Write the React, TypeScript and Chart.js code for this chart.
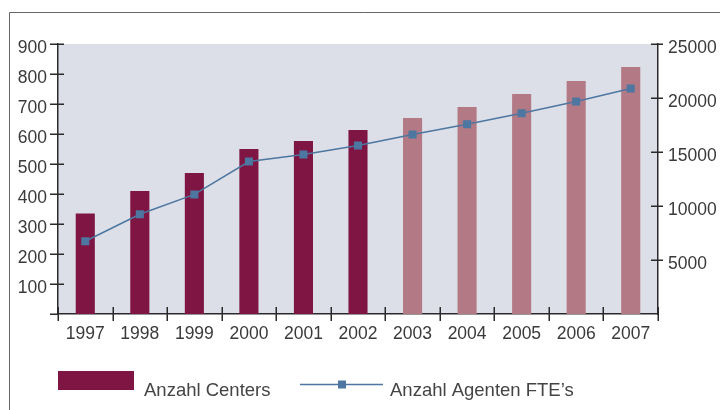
import React, { useEffect, useRef } from "react";
import { Chart, registerables } from "chart.js";

Chart.register(...registerables);

const years = ["1997", "1998", "1999", "2000", "2001", "2002", "2003", "2004", "2005", "2006", "2007"];
const centers = [335, 410, 470, 550, 577, 613, 653, 690, 733, 777, 823];
const agents = [6740, 9240, 11070, 14120, 14770, 15600, 16620, 17570, 18590, 19680, 20880];
const firstProjectedYear = "2003";
const centersLabel = "Anzahl Centers";
const agentsLabel = "Anzahl Agenten FTE\u2019s";

const DARK = "#7e1542";
const LIGHT = "#b37a86";
const LINE = "#4d76a0";
const BG = "#dcdfe7";
const AXIS = "#2a2a2a";
const TEXT = "#3a3a3a";
const FONT = "'Liberation Sans', Arial, sans-serif";

const decorPlugin = {
  id: "decor",
  beforeDraw(chart: any) {
    const { ctx, chartArea } = chart;
    ctx.save();
    ctx.fillStyle = BG;
    ctx.fillRect(chartArea.left, chartArea.top, chartArea.right - chartArea.left, chartArea.bottom - chartArea.top);
    // frame
    ctx.strokeStyle = "#666";
    ctx.lineWidth = 1;
    ctx.beginPath();
    ctx.moveTo(9.5, 410);
    ctx.lineTo(9.5, 12.5);
    ctx.lineTo(720, 12.5);
    ctx.stroke();
    ctx.restore();
  },
  afterDraw(chart: any) {
    const { ctx, chartArea } = chart;
    const y = chart.scales.y;
    const y2 = chart.scales.y2;
    const x = chart.scales.x;
    ctx.save();
    ctx.strokeStyle = AXIS;
    ctx.lineWidth = 1.5;
    ctx.beginPath();
    y.ticks.forEach((t: any) => {
      const py = Math.round(y.getPixelForValue(t.value)) + 0.25;
      ctx.moveTo(chartArea.left - 8, py);
      ctx.lineTo(t.value === 0 ? chartArea.left : chartArea.left + 6, py);
    });
    y2.ticks.forEach((t: any) => {
      if (t.value === 0) return;
      const py = Math.round(y2.getPixelForValue(t.value)) + 0.25;
      ctx.moveTo(chartArea.right - 7, py);
      ctx.lineTo(chartArea.right + 5, py);
    });
    const n = x.ticks.length;
    for (let i = 0; i <= n; i++) {
      let px;
      if (i === 0) px = chartArea.left;
      else if (i === n) px = chartArea.right;
      else px = (x.getPixelForValue(i - 1) + x.getPixelForValue(i)) / 2;
      px = Math.round(px) + 0.25;
      ctx.moveTo(px, chartArea.bottom - 7);
      ctx.lineTo(px, chartArea.bottom + 7);
    }
    ctx.stroke();

    // legend
    const ds = chart.data.datasets;
    const bar = ds.find((d: any) => d.type === "bar");
    const line = ds.find((d: any) => d.type === "line");
    ctx.font = `18.5px ${FONT}`;
    ctx.fillStyle = "#444";
    ctx.textBaseline = "alphabetic";
    ctx.textAlign = "left";
    ctx.fillStyle = DARK;
    ctx.fillRect(58, 371, 76, 19);
    ctx.fillStyle = "#444";
    ctx.fillText(bar.label, 144, 396);
    ctx.strokeStyle = LINE;
    ctx.lineWidth = 1.5;
    ctx.beginPath();
    ctx.moveTo(300, 384.5);
    ctx.lineTo(383, 384.5);
    ctx.stroke();
    ctx.fillStyle = LINE;
    ctx.fillRect(338, 380.5, 8, 8);
    ctx.fillStyle = "#444";
    ctx.fillText(line.label, 390, 396);
    ctx.restore();
  },
};

export default function App() {
  const ref = useRef<HTMLCanvasElement>(null);
  useEffect(() => {
    document.body.style.margin = "0";
    const projIdx = years.indexOf(firstProjectedYear);
    const chart = new Chart(ref.current!, {
      type: "bar",
      data: {
        labels: years,
        datasets: [
          {
            type: "line",
            label: agentsLabel,
            data: agents,
            yAxisID: "y2",
            borderColor: LINE,
            backgroundColor: LINE,
            borderWidth: 1.5,
            pointStyle: "rect",
            pointRadius: 5.7,
            pointBorderWidth: 0,
            pointBackgroundColor: LINE,
            order: 0,
          } as any,
          {
            type: "bar",
            label: centersLabel,
            data: centers,
            yAxisID: "y",
            backgroundColor: years.map((_, i) => (i >= projIdx ? LIGHT : DARK)),
            barPercentage: 0.35,
            categoryPercentage: 1,
            order: 1,
          },
        ],
      },
      options: {
        responsive: false,
        animation: false,
        layout: { padding: { top: 44, left: 0, right: 0, bottom: 0 } },
        plugins: { legend: { display: false }, tooltip: { enabled: false } },
        scales: {
          x: {
            offset: true,
            grid: { display: false, drawTicks: false },
            border: { display: true, color: AXIS, width: 1.5 },
            ticks: { font: { family: FONT, size: 17.5 }, color: TEXT, padding: 10, maxRotation: 0, autoSkip: false },
            afterFit: (s: any) => { s.height = 96; },
          },
          y: {
            position: "left",
            min: 0,
            max: 900,
            grid: { display: false, drawTicks: false },
            border: { display: true, color: AXIS, width: 1.5 },
            ticks: {
              stepSize: 100,
              font: { family: FONT, size: 17.5 },
              color: TEXT,
              padding: 11,
              labelOffset: 4,
              callback: (v: any) => (v === 0 ? "" : String(v)),
            },
            afterFit: (s: any) => { s.width = 58; },
          },
          y2: {
            position: "right",
            min: 0,
            max: 25000,
            grid: { display: false, drawTicks: false },
            border: { display: true, color: AXIS, width: 1.5 },
            ticks: {
              stepSize: 5000,
              font: { family: FONT, size: 17.5 },
              color: TEXT,
              padding: 10,
              labelOffset: 4,
              callback: (v: any) => (v === 0 ? "" : String(v)),
            },
            afterFit: (s: any) => { s.width = 62; },
          },
        },
      },
      plugins: [decorPlugin],
    });
    return () => chart.destroy();
  }, []);
  return (
    <div style={{ width: 720, height: 410 }}>
      <canvas ref={ref} width={720} height={410} style={{ display: "block" }} />
    </div>
  );
}
